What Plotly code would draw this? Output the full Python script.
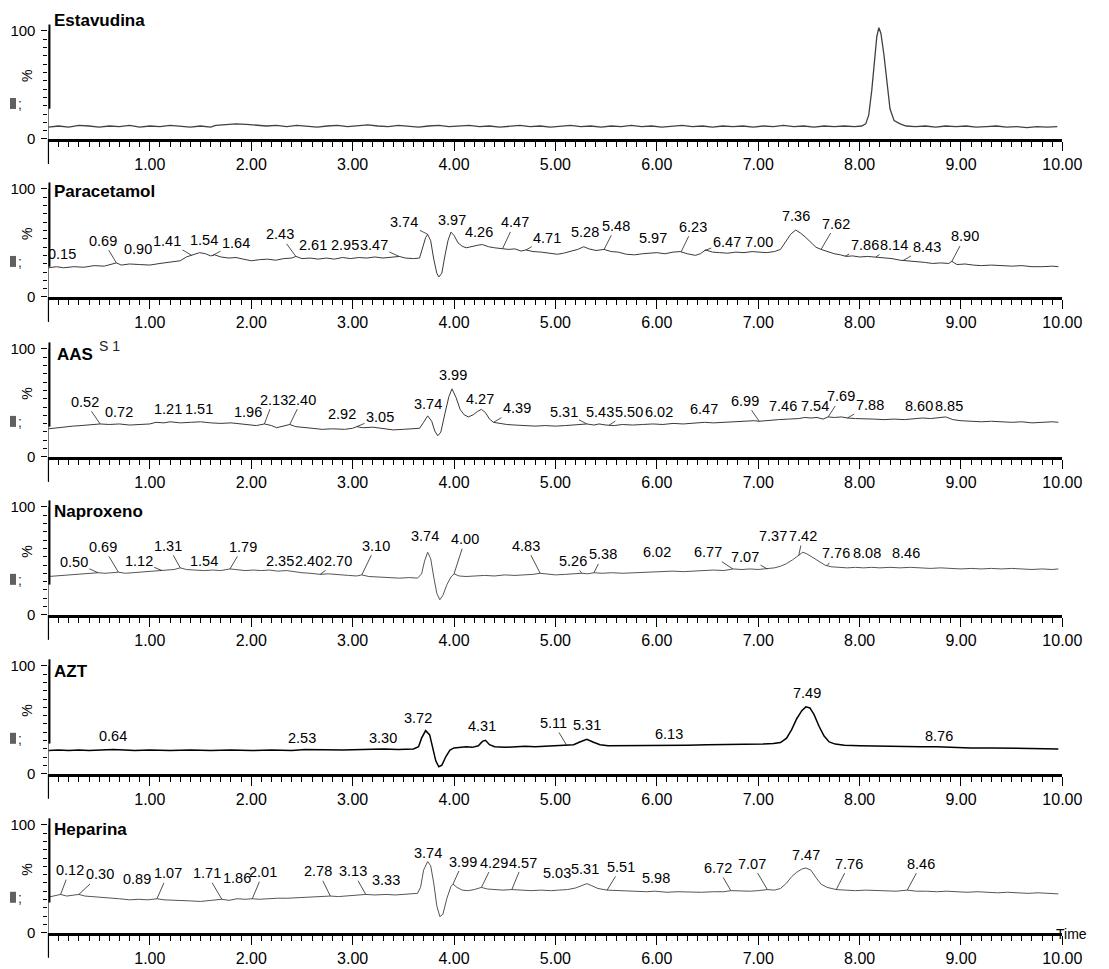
import numpy as np
import plotly.graph_objects as go

# ---------------- data ----------------
names = ["Estavudina", "Paracetamol", "AAS", "Naproxeno", "AZT", "Heparina"]

est_t = [0.00,0.10,0.20,0.30,0.40,0.50,0.60,0.70,0.80,0.90,1.00,1.10,1.20,1.30,1.40,1.50,1.60,1.65,1.75,1.85,1.95,2.05,2.15,2.25,2.35,2.45,2.55,2.65,2.75,2.85,2.95,3.05,3.15,3.25,3.35,3.45,3.55,3.65,3.75,3.85,3.95,4.05,4.15,4.25,4.35,4.45,4.55,4.65,4.75,4.85,4.95,5.05,5.15,5.25,5.35,5.45,5.55,5.65,5.75,5.85,5.95,6.05,6.15,6.25,6.35,6.45,6.55,6.65,6.75,6.85,6.95,7.05,7.15,7.25,7.35,7.45,7.55,7.65,7.75,7.85,7.95,8.02,8.06,8.09,8.12,8.15,8.17,8.19,8.21,8.24,8.27,8.30,8.34,8.40,8.46,8.55,8.65,8.75,8.85,8.95,9.05,9.15,9.25,9.35,9.45,9.55,9.65,9.75,9.85,9.95]
est_i = [11,12,11,12.5,12,11,12,11.5,12.5,11,12,11.5,12.5,12,11,12,11,12.5,13.5,14,13.5,13,12,12.5,11.5,12.5,12,11,12,12.5,11.5,12,13,12,11.5,12.5,12,11,12,12.5,11.5,12,12.5,11.5,12,11,12,12.5,11.5,12,11,12,12.5,11.5,12,11,12,11.5,12.5,11.5,12,11,12,12.5,11.5,12,11,12,11.5,12,11,12,11.5,12.5,11.5,12,11,12,11.5,12,11.5,12,14,22,45,75,95,103,98,78,50,28,17,14,12,11.5,12,11,12,11.5,12,11,11.5,12,11,11.5,10.5,11.5,11,11.5]

par_t = [0.00,0.08,0.15,0.25,0.35,0.45,0.55,0.62,0.67,0.72,0.80,0.90,1.00,1.10,1.20,1.30,1.36,1.42,1.49,1.55,1.60,1.64,1.70,1.78,1.85,1.92,2.00,2.08,2.16,2.24,2.32,2.40,2.44,2.50,2.58,2.66,2.74,2.82,2.90,2.98,3.06,3.14,3.22,3.30,3.38,3.46,3.52,3.60,3.66,3.69,3.72,3.74,3.77,3.80,3.83,3.85,3.88,3.91,3.94,3.97,4.00,4.04,4.08,4.12,4.18,4.24,4.28,4.34,4.40,4.48,4.54,4.60,4.66,4.71,4.78,4.86,4.94,5.02,5.08,5.15,5.22,5.28,5.33,5.40,5.48,5.55,5.62,5.70,5.78,5.86,5.94,6.00,6.08,6.16,6.23,6.30,6.38,6.43,6.48,6.55,6.62,6.70,6.78,6.86,6.94,7.00,7.08,7.16,7.22,7.27,7.32,7.37,7.42,7.47,7.52,7.57,7.62,7.68,7.75,7.81,7.87,7.93,8.00,8.08,8.16,8.24,8.32,8.40,8.48,8.56,8.64,8.72,8.80,8.88,8.91,8.96,9.04,9.12,9.20,9.30,9.40,9.50,9.60,9.70,9.80,9.90,9.96]
par_i = [27,28,27,28,27.5,29,28.5,30,31.5,29.5,30.5,30,29.5,31,32,33.5,37,39,41,40,38,39,37,36,36.5,35,33.5,34.5,35,34,35.5,36,37.5,35.5,36,35,36,35,36.5,35.5,36.5,36,37,36,36.5,37.5,36,35.5,36,45,55,58,52,35,22,18.5,22,38,52,60,57,50,47,45.5,47,48,48.5,46.5,45.5,45,44,44.5,42.5,43.5,42,41.5,40.5,39.5,40.5,42,44,46.5,44.5,43,44,42,41.5,39.5,39,40,40.5,41,40,41.5,42,40,38.5,40,43.5,41.5,41,40.5,41.5,41,42,41.5,41,42,44,51,58,62,59,55,50,46,44,42,40,39,37.5,38,37,37.5,37,36.5,35.5,34,33.5,33,32,31,31.5,31,33,30,30.5,29.5,29,29.5,29,28.5,29,28,28,28.5,28]

aas_t = [0.00,0.08,0.16,0.24,0.32,0.40,0.51,0.60,0.70,0.80,0.90,1.00,1.06,1.14,1.20,1.30,1.40,1.50,1.60,1.70,1.80,1.90,1.97,2.05,2.13,2.20,2.25,2.32,2.38,2.44,2.52,2.60,2.70,2.80,2.92,3.00,3.04,3.10,3.20,3.30,3.40,3.50,3.60,3.66,3.70,3.74,3.78,3.81,3.84,3.87,3.91,3.95,3.98,4.02,4.06,4.10,4.14,4.19,4.23,4.27,4.31,4.35,4.39,4.45,4.52,4.60,4.70,4.80,4.90,5.00,5.10,5.20,5.31,5.38,5.43,5.50,5.58,5.66,5.76,5.86,5.96,6.06,6.16,6.26,6.36,6.47,6.56,6.66,6.76,6.86,6.96,7.01,7.10,7.20,7.30,7.40,7.46,7.52,7.58,7.64,7.69,7.75,7.82,7.88,7.96,8.04,8.14,8.24,8.34,8.44,8.54,8.62,8.70,8.78,8.85,8.92,9.00,9.10,9.20,9.30,9.40,9.50,9.60,9.70,9.80,9.90,9.96]
aas_i = [26,27,28,28.5,29,29.5,30.5,30,30.5,29.5,30,30.5,32,31.5,32.5,31.5,32,32.5,31.5,31,31.5,30.5,30,29,30.5,29,27,28.5,30,28,27,26.5,25.5,26,25.5,26.5,28,27,27.5,26.5,25,25.5,26,26.5,32,38,33,24,19.5,23,40,56,63,55,44,39,37,39,42,44,41,35,32,31,30,29.5,29,28.5,29,28.5,29,29.5,30.5,29.5,30.5,29.5,29,30,29.5,30,30.5,30,31,30.5,31.5,32,31.5,32,32.5,33,33.5,33,34,34.5,35,35.5,36.5,36,36.5,35,37,36.5,37,36,35.5,35.5,35,34.5,35,34.5,35,36,35.5,36,37,34.5,33.5,33,32.5,33,32.5,32,32.5,31.5,32,32.5,32]

nap_t = [0.00,0.08,0.16,0.24,0.32,0.40,0.49,0.56,0.63,0.69,0.76,0.84,0.92,1.00,1.06,1.12,1.18,1.24,1.30,1.36,1.44,1.54,1.62,1.70,1.79,1.86,1.94,2.02,2.10,2.18,2.26,2.35,2.42,2.50,2.58,2.68,2.76,2.86,2.96,3.04,3.09,3.16,3.26,3.36,3.46,3.56,3.64,3.68,3.71,3.74,3.77,3.80,3.83,3.86,3.89,3.93,3.97,4.00,4.05,4.12,4.20,4.30,4.40,4.50,4.60,4.70,4.78,4.85,4.92,5.00,5.10,5.18,5.26,5.32,5.38,5.46,5.56,5.66,5.76,5.86,5.96,6.06,6.16,6.26,6.36,6.46,6.56,6.66,6.75,6.84,6.92,7.00,7.09,7.16,7.22,7.28,7.34,7.40,7.44,7.48,7.54,7.60,7.66,7.72,7.80,7.88,7.96,8.04,8.12,8.20,8.30,8.40,8.50,8.60,8.70,8.80,8.90,9.00,9.10,9.20,9.30,9.40,9.50,9.60,9.70,9.80,9.90,9.96]
nap_i = [35.5,36,36.5,37,37.5,38,39,38.5,39,39.5,38.5,39,39.5,40,40.5,41,41.5,42,43.5,42,41.5,41,41.5,41,42.5,41.5,41,41.5,41,41.5,40.5,41,40,39,38.5,37.5,38,37,36.5,36,37,35.5,35,34.5,34,34.5,34,38,50,58,52,35,20,14,18,28,35,38,36,35.5,36,36.5,36,37,36.5,37,37.5,38.5,37.5,37,37.5,38,38.5,38,39,38.5,39,38.5,39,39.5,39.5,40,40.5,40,40.5,41,41.5,41,42.5,42,42.5,42,42.5,43.5,45,47.5,51,55,58,56.5,53,50,46,44.5,44,43.5,44,43.5,44,43.5,44,43.5,44,43.5,43,43.5,43,42.5,43,42.5,43,42.5,43,42.5,42,42.5,42,42.5]

azt_t = [0.00,0.10,0.20,0.30,0.40,0.50,0.64,0.75,0.85,1.00,1.20,1.40,1.60,1.80,2.00,2.20,2.40,2.53,2.70,2.90,3.10,3.30,3.45,3.60,3.65,3.68,3.72,3.76,3.79,3.82,3.85,3.88,3.92,3.96,4.00,4.06,4.12,4.18,4.24,4.28,4.31,4.35,4.40,4.50,4.60,4.70,4.80,4.90,5.00,5.11,5.18,5.24,5.31,5.37,5.44,5.52,5.62,5.75,5.90,6.00,6.13,6.30,6.50,6.70,6.90,7.05,7.15,7.22,7.28,7.33,7.38,7.43,7.47,7.51,7.55,7.60,7.65,7.70,7.76,7.85,8.00,8.20,8.40,8.60,8.76,8.90,9.10,9.30,9.50,9.70,9.90,9.96]
azt_i = [21.5,22,21.5,22,21.5,22,22.5,22,21.5,22,21.5,22,21.5,22,21.5,22,21.5,22.5,22,22,22.5,23,22.5,23,25,33,40,36,24,12,6.5,8,16,22,24,24.5,25,24.5,26,30,31,27,25,24.5,25,25.5,25,25.5,25.5,26.5,27,29.5,32,29.5,27,26,26,26,26,26,26.5,26.5,27,27,27.5,27.5,28,29,33,41,51,58.5,62,61,55,44,35,29.5,27.5,26.5,26,25.5,25,25,25,24.5,24,24,23.5,23.5,23,23]

hep_t = [0.00,0.06,0.12,0.18,0.24,0.30,0.36,0.44,0.52,0.60,0.70,0.80,0.89,0.98,1.07,1.14,1.22,1.30,1.40,1.50,1.58,1.66,1.71,1.78,1.86,1.94,2.01,2.08,2.16,2.26,2.36,2.46,2.56,2.66,2.78,2.86,2.96,3.04,3.13,3.22,3.33,3.42,3.50,3.58,3.64,3.67,3.70,3.74,3.77,3.80,3.83,3.86,3.89,3.93,3.97,3.99,4.03,4.08,4.14,4.20,4.27,4.33,4.40,4.48,4.57,4.66,4.76,4.86,4.96,5.03,5.12,5.20,5.27,5.31,5.36,5.42,5.51,5.60,5.70,5.80,5.90,5.98,6.10,6.20,6.32,6.44,6.56,6.66,6.73,6.82,6.92,7.00,7.09,7.16,7.22,7.28,7.33,7.38,7.43,7.47,7.52,7.57,7.62,7.68,7.77,7.86,7.96,8.06,8.16,8.26,8.36,8.47,8.56,8.66,8.76,8.86,8.96,9.06,9.16,9.26,9.36,9.46,9.56,9.66,9.76,9.86,9.96]
hep_i = [33,34,35.5,34,34.5,35.5,34,33.5,33,32,31.5,30.5,31,30.5,31.5,30.5,30,29.5,29.5,29,29.5,30,31,30,31.5,31,31.5,31,31.5,32,32,32.5,32.5,33,34,33.5,34,34.5,35.5,35,35.5,35,35.5,36,36.5,42,58,66,62,46,25,15,17,32,43,45,42,39.5,39,40,42,40.5,40,39.5,40,39.5,39,39.5,39,39.5,40,41.5,44,45.5,43.5,41,39.5,39,38.5,38,38,38.5,37.5,38,37.5,37.5,38,38,39,38.5,38.5,39,40,39.5,41,46,52,56,59,60,58,51,45,42,40,39.5,39,39.5,39,39,38.5,39.5,38.5,38.5,38,38.5,38,37.5,38,37.5,37,37.5,37,36.5,37,36.5,36]

# peak retention-time labels
est_peaks = ["8.29"]
par_peaks = ["0.15","0.69","0.90","1.41","1.54","1.64","2.43","2.61","2.95","3.47","3.74","3.97","4.26","4.47","4.71","5.28","5.48","5.97","6.23","6.47","7.00","7.36","7.62","7.86","8.14","8.43","8.90"]
aas_peaks = ["0.52","0.72","1.21","1.51","1.96","2.13","2.40","2.92","3.05","3.74","3.99","4.27","4.39","5.31","5.43","5.50","6.02","6.47","6.99","7.46","7.54","7.69","7.88","8.60","8.85"]
nap_peaks = ["0.50","0.69","1.12","1.31","1.54","1.79","2.35","2.40","2.70","3.10","3.74","4.00","4.83","5.26","5.38","6.02","6.77","7.07","7.37","7.42","7.76","8.08","8.46"]
azt_peaks = ["0.64","2.53","3.30","3.72","4.31","5.11","5.31","6.13","7.49","8.76"]
hep_peaks = ["0.12","0.30","0.89","1.07","1.71","1.86","2.01","2.78","3.13","3.33","3.74","3.99","4.29","4.57","5.03","5.31","5.51","5.98","6.72","7.07","7.47","7.76","8.46"]

x_tick_vals = [1, 2, 3, 4, 5, 6, 7, 8, 9, 10]
x_tick_text = ["1.00","2.00","3.00","4.00","5.00","6.00","7.00","8.00","9.00","10.00"]
y_tick_vals = [0, 100]
y_tick_text = ["0", "100"]

# ---------------- layout (positions of label texts: x, y%, leader anchor time) ----------------
est_pos = [(8.19,115,None)]
par_pos = [(0.13,40,None),(0.54,52,0.67),(0.88,44,None),(1.17,52,1.41),(1.53,53,None),(1.85,50,1.62),
           (2.28,58,2.44),(2.61,48,None),(2.92,48,None),(3.21,48,3.46),(3.51,69,3.74),(3.98,71,None),
           (4.25,60,None),(4.60,69,4.48),(4.92,55,4.71),(5.29,60,None),(5.60,66,5.48),(5.96,55,None),
           (6.36,65,6.24),(6.69,51,6.47),(7.01,51,None),(7.37,75,None),(7.77,68,7.62),(8.05,48,7.86),
           (8.34,48,8.16),(8.66,46,8.43),(9.04,56,8.91)]
aas_pos = [(0.36,51,0.51),(0.70,42,None),(1.18,44,None),(1.48,44,None),(1.97,42,None),(2.22,53,2.13),
           (2.50,53,2.38),(2.90,40,None),(3.27,37,3.04),(3.74,49,None),(3.99,76,None),(4.26,54,None),
           (4.62,45,4.39),(5.08,42,5.31),(5.44,42,None),(5.73,42,5.53),(6.02,42,None),(6.47,44,None),
           (6.87,52,7.01),(7.24,47,None),(7.56,47,None),(7.82,56,7.69),(8.10,48,7.88),(8.59,47,None),
           (8.88,47,None)]
nap_pos = [(0.25,49,0.49),(0.54,63,0.69),(0.89,50,1.12),(1.18,64,1.30),(1.53,50,None),(1.92,63,1.79),
           (2.28,50,None),(2.57,50,None),(2.86,50,2.68),(3.23,64,3.09),(3.71,73,None),(4.11,70,4.00),
           (4.71,64,4.85),(5.17,50,5.26),(5.47,56,5.38),(6.00,58,None),(6.50,58,6.75),(6.87,54,7.09),
           (7.15,73,None),(7.44,73,7.40),(7.77,57,7.68),(8.07,57,None),(8.46,57,None)]
azt_pos = [(0.64,35,None),(2.50,33,None),(3.30,33,None),(3.64,52,None),(4.28,44,None),(4.98,47,5.11),
           (5.31,45,None),(6.12,37,None),(7.48,75,None),(8.78,35,None)]
hep_pos = [(0.21,58,0.12),(0.51,54,0.30),(0.87,50,None),(1.18,55,1.07),(1.56,55,1.71),(1.86,51,None),
           (2.12,56,2.01),(2.66,57,2.78),(3.00,57,3.13),(3.33,49,None),(3.74,74,None),(4.09,66,3.99),
           (4.39,65,4.27),(4.68,65,4.57),(5.02,55,None),(5.29,59,None),(5.65,61,5.51),(5.99,51,None),
           (6.60,60,6.73),(6.94,64,7.09),(7.47,72,None),(7.90,64,7.77),(8.61,64,8.47)]

series = [(est_t, est_i, est_peaks, est_pos), (par_t, par_i, par_peaks, par_pos),
          (aas_t, aas_i, aas_peaks, aas_pos), (nap_t, nap_i, nap_peaks, nap_pos),
          (azt_t, azt_i, azt_peaks, azt_pos), (hep_t, hep_i, hep_peaks, hep_pos)]

W, H = 1109, 969
# the photographed page comes out slightly shrunk; compensate placement
SX, SY = 0.983, 0.992


def px(xpix):
    return (xpix / SX) / W


def py(ypix):
    return 1 - (ypix / SY) / H


X0PX, X10PX = 48.5, 1063.5
zero_px = [139, 297, 457, 615, 774, 933]
title_px = [21, 192, 355, 512, 672, 830]
PXPCT = 1.08
YMAX = 112
line_colors = ["#404040", "#3a3a3a", "#3a3a3a", "#555555", "#000000", "#555555"]
line_widths = [1.3, 1.0, 1.0, 1.0, 1.5, 1.0]

SANS = "Liberation Sans, Arial, sans-serif"
LBL = 14.5

fig = go.Figure()
annotations = []
shapes = []
layout = dict(width=W, height=H, margin=dict(l=0, r=0, t=0, b=0),
              paper_bgcolor="white", plot_bgcolor="white", showlegend=False)

x_major = [k * 0.5 for k in range(21)]
x_major_text = [""] * 21
for v, s in zip(x_tick_vals, x_tick_text):
    x_major_text[int(v * 2)] = s
x_minor = [k * 0.1 for k in range(101)]
y_minor = [k * 100.0 / 13 for k in range(14)]

for i, (t, inten, peaks, pos) in enumerate(series):
    n = i + 1
    xa = "x" if n == 1 else f"x{n}"
    ya = "y" if n == 1 else f"y{n}"
    fig.add_trace(go.Scatter(x=t, y=inten, mode="lines", xaxis=xa, yaxis=ya,
                             line=dict(color=line_colors[i], width=line_widths[i]),
                             hoverinfo="skip"))
    yb = py(zero_px[i])
    yt = py(zero_px[i] - YMAX * PXPCT)
    layout[f"xaxis{n if n > 1 else ''}"] = dict(
        domain=[px(X0PX), px(X10PX)], range=[0, 10], anchor=ya,
        tickmode="array", tickvals=x_major, ticktext=x_major_text,
        ticks="outside", ticklen=9, tickwidth=1, tickcolor="black",
        showline=True, linewidth=3, linecolor="black",
        minor=dict(tickmode="array", tickvals=x_minor, ticks="outside", ticklen=5,
                   tickwidth=1, tickcolor="black"),
        showgrid=False, zeroline=False,
        tickfont=dict(family=SANS, size=16, color="black"))
    layout[f"yaxis{n if n > 1 else ''}"] = dict(
        domain=[yb, yt], range=[0, YMAX], anchor=xa,
        tickmode="array", tickvals=y_tick_vals, ticktext=y_tick_text,
        ticks="outside", ticklen=6, tickwidth=1, tickcolor="black",
        ticklabelstandoff=3,
        minor=dict(tickmode="array", tickvals=y_minor, ticks="outside", ticklen=4,
                   tickwidth=1, tickcolor="black"),
        showline=False, showgrid=False, zeroline=False,
        tickfont=dict(family=SANS, size=15, color="black"))

    # thin y axis line 0..100 and thick frame segment
    shapes.append(dict(type="line", xref=xa, yref=ya, x0=0, x1=0, y0=0, y1=100,
                       line=dict(color="black", width=1)))
    shapes.append(dict(type="line", xref="paper", yref="paper",
                       x0=px(X0PX + 1), x1=px(X0PX + 1),
                       y0=py(zero_px[i] - 28 * PXPCT), y1=py(zero_px[i] - 106 * PXPCT),
                       line=dict(color="black", width=2)))
    # long tick below origin
    shapes.append(dict(type="line", xref="paper", yref="paper", x0=px(X0PX), x1=px(X0PX),
                       y0=py(zero_px[i]), y1=py(zero_px[i] + 25),
                       line=dict(color="black", width=1.2)))
    # small grey marker and ';'
    shapes.append(dict(type="rect", xref="paper", yref="paper",
                       x0=px(10), x1=px(16), y0=py(zero_px[i] - 30), y1=py(zero_px[i] - 41),
                       fillcolor="#606060", line=dict(width=0)))
    annotations.append(dict(xref="paper", yref="paper", x=px(20), y=py(zero_px[i] - 35),
                            text=";", showarrow=False, font=dict(family=SANS, size=14, color="#333"),
                            xanchor="center", yanchor="middle"))
    # % label
    annotations.append(dict(xref="paper", yref="paper", x=px(27), y=py(zero_px[i] - 63),
                            text="%", showarrow=False, textangle=-90,
                            font=dict(family=SANS, size=14, color="black"),
                            xanchor="center", yanchor="middle"))
    # title
    annotations.append(dict(xref="paper", yref="paper", x=px(52 if i != 2 else 55),
                            y=py(title_px[i]), text=f"<b>{names[i]}</b>", showarrow=False,
                            font=dict(family=SANS, size=17, color="black"),
                            xanchor="left", yanchor="middle"))
    # peak labels
    for txt, (lx, ly, anc) in zip(peaks, pos):
        if anc is None:
            annotations.append(dict(xref=xa, yref=ya, x=lx, y=ly, text=txt, showarrow=False,
                                    font=dict(family=SANS, size=LBL, color="black"),
                                    xanchor="center", yanchor="middle"))
        else:
            ay_ = float(np.interp(anc, t, inten))
            annotations.append(dict(xref=xa, yref=ya, x=anc, y=ay_, axref=xa, ayref=ya,
                                    ax=lx, ay=ly, text=txt, showarrow=True, arrowhead=0,
                                    arrowwidth=0.8, arrowcolor="#222", standoff=0,
                                    font=dict(family=SANS, size=LBL, color="black")))

# extra texts
annotations.append(dict(xref="paper", yref="paper", x=px(97), y=py(346), text="S 1",
                        showarrow=False, font=dict(family=SANS, size=14, color="#222"),
                        xanchor="left", yanchor="middle"))
annotations.append(dict(xref="paper", yref="paper", x=1.0, y=py(934), text="Time",
                        showarrow=False, font=dict(family=SANS, size=14, color="black"),
                        xanchor="right", yanchor="middle"))

layout["annotations"] = annotations
layout["shapes"] = shapes
fig.update_layout(**layout)
fig.write_html("out.html", config={"displayModeBar": False},
               post_script="document.body.style.margin='0';document.body.style.overflow='hidden';"
                           "document.documentElement.style.overflow='hidden';")
